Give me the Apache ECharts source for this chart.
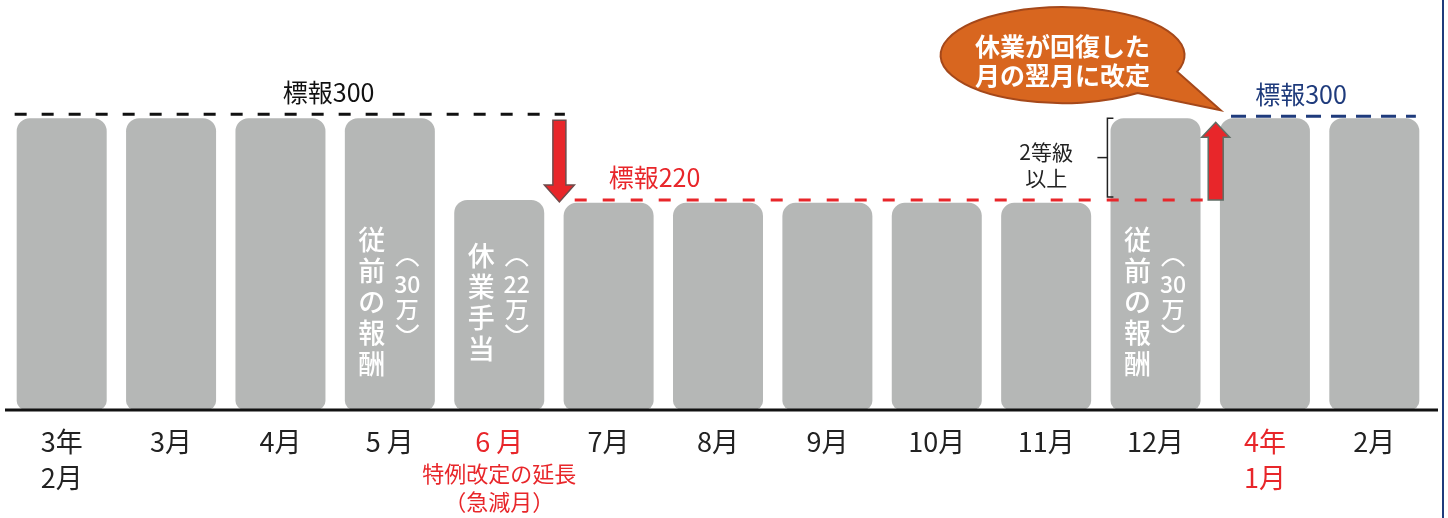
<!DOCTYPE html>
<html><head><meta charset="utf-8">
<script src="https://cdn.jsdelivr.net/npm/echarts@6.0.0/dist/echarts.min.js"></script>
<style>html,body{margin:0;padding:0;background:#fff;}#c{width:1448px;height:518px;}</style>
</head><body><div id="c"></div>
<script>
// ---------- data ----------
const categories = ["3年\n2月","3月","4月","5 月","6 月","7月","8月","9月","10月","11月","12月","4年\n1月","2月"];
const barValues  = [300,300,300,300,216,213,213,213,213,213,300,300,300];
const highlightIdx = [4, 11];
const subNoteIdx = 4;
const subNoteLines = ["特例改定の延長","（急減月）"];

const refLineValues = [304, 216, 302];
const refLineFrom   = [0, 5, 11];
const refLineTo     = [4, 10, 12];
const refLineLabels = ["標報300","標報220","標報300"];

const annotIdx  = [3, 4, 10];
const annotMain = ["従前の報酬","休業手当","従前の報酬"];
const annotSub  = ["30","22","30"];
const annotUnit = "万";

const downArrow = {idx: 4, from: 304, to: 216};
const upArrow   = {idx: 11, from: 216, to: 300};
const bracketRange = {idx: 10, from: 216, to: 300};
const bracketText = ["2等級","以上"];
const bubbleText = ["休業が回復した","月の翌月に改定"];

// ---------- layout / style (not data) ----------
const FF = '"Noto Sans CJK JP", "Noto Sans", sans-serif';
const RED = '#e8262a', NAVY = '#1f3b7c', GRAY = '#b5b7b6';
const lineStyles = [
  {color:'#111', dash:[12,15], from:-0.43, to:0.60, lab:[2,0.44]},
  {color:RED,   dash:[12,16], from:-0.31, to:0.50, lab:[5,0.42]},
  {color:NAVY,  dash:[15,10], from:-0.31, to:0.38, lab:[11,0.33]}
];

function renderOverlay(params, api) {
  const bw = api.size([1, 0])[0];
  const X = (i, f) => api.coord([i, 0])[0] + (f || 0) * bw;
  const Y = v => api.coord([0, v])[1];
  const ch = [];
  const y0 = Y(0);
  // baseline
  ch.push({type:'line', shape:{x1:X(0,-0.5)-2, y1:y0, x2:X(categories.length-1,0.5)+9, y2:y0},
           style:{stroke:'#111', lineWidth:3}});
  // reference lines
  refLineValues.forEach((v, k) => {
    const s = lineStyles[k];
    const y = Y(v);
    ch.push({type:'line', shape:{x1:X(refLineFrom[k], s.from), y1:y, x2:X(refLineTo[k], s.to), y2:y},
             style:{stroke:s.color, lineWidth:3, lineDash:s.dash}});
    ch.push({type:'text', style:{text:refLineLabels[k], x:X(s.lab[0], s.lab[1]), y:y-22,
             fill:s.color, font:'25px '+FF, textAlign:'center', textVerticalAlign:'middle'}});
  });
  // annotations inside bars (vertical writing)
  annotIdx.forEach((i, k) => {
    ch.push({type:'text', style:{text:annotMain[k].split('').join('\n'), x:X(i,-0.165), y:y0-108,
             fill:'#fff', font:'500 27px '+FF, lineHeight:31, textAlign:'center', textVerticalAlign:'middle'}});
    const sx = X(i, 0.16), sy = y0-114;
    ch.push({type:'path', shape:{pathData:`M${sx-11},${sy-30} Q${sx},${sy-44} ${sx+11},${sy-30}`},
             style:{stroke:'#fff', lineWidth:2.2, fill:null}});
    ch.push({type:'text', style:{text:annotSub[k], x:sx, y:sy-12, fill:'#fff', font:'500 23px '+FF,
             textAlign:'center', textVerticalAlign:'middle'}});
    ch.push({type:'text', style:{text:annotUnit, x:sx, y:sy+13, fill:'#fff', font:'500 23px '+FF,
             textAlign:'center', textVerticalAlign:'middle'}});
    ch.push({type:'path', shape:{pathData:`M${sx-11},${sy+29} Q${sx},${sy+43} ${sx+11},${sy+29}`},
             style:{stroke:'#fff', lineWidth:2.2, fill:null}});
  });
  // down arrow
  {
    const cx = X(downArrow.idx, 0.55), top = Y(downArrow.from)+6, tip = Y(downArrow.to)+2;
    const hh = 17, hw = 15, sw = 6.5;
    ch.push({type:'polygon', shape:{points:[[cx-sw,top],[cx+sw,top],[cx+sw,tip-hh],[cx+hw,tip-hh],[cx,tip],[cx-hw,tip-hh],[cx-sw,tip-hh]]},
             style:{fill:RED, stroke:'#6e4b4b', lineWidth:1.5}});
  }
  // up arrow
  {
    const cx = X(upArrow.idx, -0.45), bot = Y(upArrow.from), tip = Y(upArrow.to)+4;
    const hh = 15, hw = 14, sw = 7.5;
    ch.push({type:'polygon', shape:{points:[[cx-sw,bot],[cx+sw,bot],[cx+sw,tip+hh],[cx+hw,tip+hh],[cx,tip],[cx-hw,tip+hh],[cx-sw,tip+hh]]},
             style:{fill:RED, stroke:'#5f6e66', lineWidth:1.5}});
  }
  // bracket
  {
    const bx = X(bracketRange.idx, -0.44), t = Y(bracketRange.to), b = Y(bracketRange.from)-3, m = (t+b)/2;
    ch.push({type:'polyline', shape:{points:[[bx+6,t],[bx,t],[bx,b],[bx+6,b]]}, style:{stroke:'#222', lineWidth:1.5, fill:null}});
    ch.push({type:'line', shape:{x1:bx-10,y1:m,x2:bx,y2:m}, style:{stroke:'#222', lineWidth:1.5}});
    ch.push({type:'text', style:{text:bracketText.join('\n'), x:X(bracketRange.idx,-1.0), y:m+7,
             fill:'#222', font:'21px '+FF, lineHeight:26, textAlign:'center', textVerticalAlign:'middle'}});
  }
  // speech bubble
  {
    const cx = X(9, 0.15), cy = Y(300)-63, rx = 122, ry = 48;
    const pt = deg => [cx + rx*Math.cos(deg*Math.PI/180), cy + ry*Math.sin(deg*Math.PI/180)];
    const B = pt(20), A = pt(52);
    const tip = [X(upArrow.idx,-0.45)+5, Y(300)-8];
    const d = `M${B[0]},${B[1]} A${rx},${ry} 0 1 0 ${A[0]},${A[1]} L${tip[0]},${tip[1]} Z`;
    ch.push({type:'path', shape:{pathData:d}, style:{fill:'#d8661f', stroke:'#a5481a', lineWidth:2}});
    ch.push({type:'text', style:{text:bubbleText.join('\n'), x:cx, y:cy+6,
             fill:'#fff', font:'bold 25px '+FF, lineHeight:29, textAlign:'center', textVerticalAlign:'middle'}});
  }
  return {type:'group', children:ch};
}

const chart = echarts.init(document.getElementById('c'));
chart.setOption({
  animation:false,
  backgroundColor:'#fff',
  grid:{left:7, right:19, top:21, bottom:108, containLabel:false, outerBoundsMode:'none'},
  xAxis:{type:'category', data:categories,
    axisLine:{show:false}, axisTick:{show:false},
    axisLabel:{interval:0, margin:14,
      formatter:(v, i) => {
        const st = highlightIdx.includes(i) ? 'r' : 'n';
        let s = v.split('\n').map(l => '{'+st+'|'+l+'}').join('\n');
        if (i === subNoteIdx) s += '\n' + subNoteLines.map(l => '{s|'+l+'}').join('\n');
        return s;
      },
      rich:{
        n:{fontSize:27, lineHeight:36, color:'#222', fontFamily:FF},
        r:{fontSize:27, lineHeight:36, color:RED, fontFamily:FF},
        s:{fontSize:22, lineHeight:28, color:RED, fontFamily:FF}
      }}},
  yAxis:{type:'value', min:0, max:400, show:false, splitLine:{show:false}},
  series:[
    {type:'bar', data:barValues, barWidth:90, z:2,
     itemStyle:{color:GRAY, borderRadius:[13,13,9,9]}},
    {type:'custom', data:[[0,0]], clip:false, z:5, silent:true, renderItem:renderOverlay}
  ],
  graphic:[{type:'line', shape:{x1:1443,y1:0,x2:1443,y2:518}, style:{stroke:NAVY, lineWidth:2}}]
});
</script></body></html>
